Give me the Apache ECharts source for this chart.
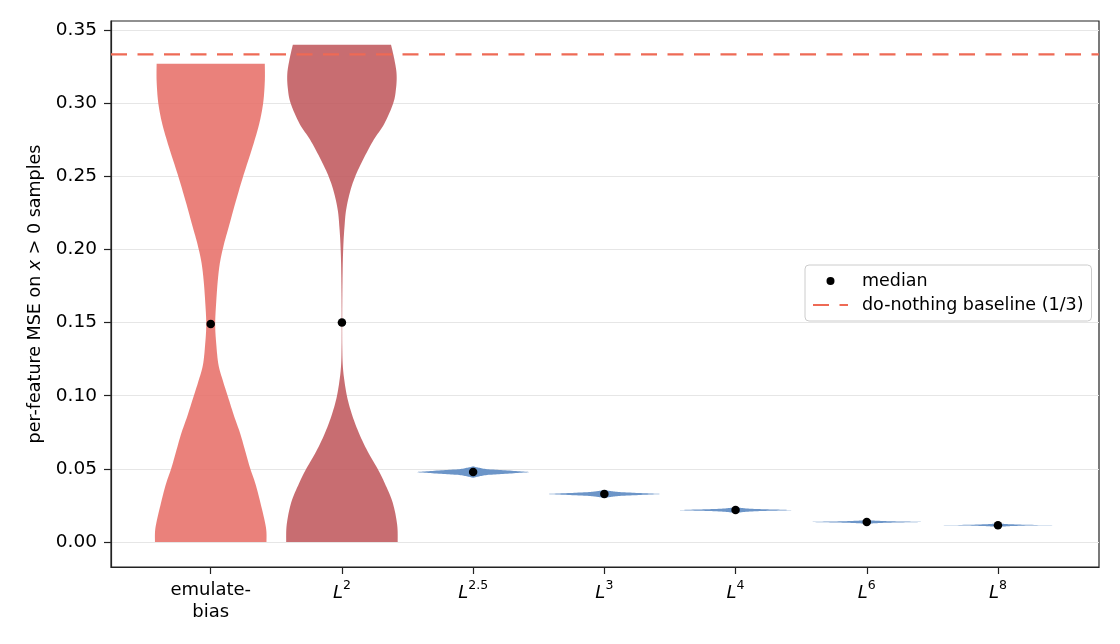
<!DOCTYPE html>
<html>
<head>
<meta charset="utf-8">
<script src="https://cdn.jsdelivr.net/npm/echarts@6.0.0/dist/echarts.min.js"></script>
<style>
  html, body { margin: 0; padding: 0; background: #fff; }
  #chart { width: 1120px; height: 644px; }
</style>
</head>
<body>
<div id="chart"></div>
<script>
// categories and tick labels
var categories = ['emulate-\nbias', 'L^2', 'L^2.5', 'L^3', 'L^4', 'L^6', 'L^8'];
var yTicks = [0, 0.05, 0.10, 0.15, 0.20, 0.25, 0.30, 0.35];

// medians
var medians = [0.149, 0.150, 0.0478, 0.0328, 0.0218, 0.0137, 0.0115];
var baseline = 1 / 3;

// violin outlines: [value, relative half-width]
var violinEmulate = [
    [0.000, 1.00], [0.010, 0.99], [0.027, 0.89], [0.040, 0.80], [0.050, 0.71],
    [0.062, 0.62], [0.074, 0.53], [0.086, 0.42], [0.098, 0.32], [0.110, 0.22],
    [0.121, 0.14], [0.135, 0.10], [0.149, 0.08], [0.165, 0.10], [0.180, 0.13],
    [0.192, 0.17], [0.204, 0.24], [0.215, 0.32], [0.233, 0.45], [0.251, 0.59],
    [0.270, 0.75], [0.286, 0.87], [0.300, 0.94], [0.315, 0.97], [0.327, 0.97]
];
var violinL2 = [
    [0.000, 1.00], [0.012, 0.99], [0.027, 0.91], [0.040, 0.77], [0.050, 0.64],
    [0.062, 0.46], [0.074, 0.31], [0.086, 0.19], [0.098, 0.10], [0.110, 0.045],
    [0.121, 0.015], [0.135, 0.006], [0.150, 0.005], [0.170, 0.008], [0.190, 0.015],
    [0.204, 0.027], [0.215, 0.045], [0.227, 0.075], [0.240, 0.15], [0.251, 0.25],
    [0.263, 0.40], [0.275, 0.57], [0.286, 0.76], [0.300, 0.92], [0.310, 0.97],
    [0.320, 0.98], [0.330, 0.94], [0.340, 0.88]
];
var violinL25 = [
    [0.0439, 0], [0.0448, 0.1], [0.0458, 0.25], [0.0464, 0.5], [0.0472, 0.8], [0.0478, 1],
    [0.0484, 0.8], [0.0492, 0.5], [0.0498, 0.25], [0.0508, 0.1], [0.0517, 0]
];
var violinL3 = [
    [0.0300, 0], [0.0307, 0.1], [0.0314, 0.25], [0.0319, 0.5], [0.0324, 0.8], [0.0328, 1],
    [0.0332, 0.8], [0.0337, 0.5], [0.0342, 0.25], [0.0349, 0.1], [0.0356, 0]
];
var violinL4 = [
    [0.0198, 0], [0.0203, 0.1], [0.0208, 0.25], [0.0212, 0.5], [0.0215, 0.8], [0.0218, 1],
    [0.0221, 0.8], [0.0224, 0.5], [0.0228, 0.25], [0.0233, 0.1], [0.0238, 0]
];
var violinL6 = [
    [0.0123, 0], [0.0127, 0.1], [0.0130, 0.25], [0.0133, 0.5], [0.0135, 0.8], [0.0137, 1],
    [0.0139, 0.8], [0.0141, 0.5], [0.0144, 0.25], [0.0147, 0.1], [0.0151, 0]
];
var violinL8 = [
    [0.0103, 0], [0.0106, 0.1], [0.0109, 0.25], [0.0112, 0.5], [0.0114, 0.8], [0.0115, 1],
    [0.0116, 0.8], [0.0118, 0.5], [0.0121, 0.25], [0.0124, 0.1], [0.0127, 0]
];
var violins = [violinEmulate, violinL2, violinL25, violinL3, violinL4, violinL6, violinL8];
var violinColors = ['#e66b64', '#be5358', '#5283be', '#5283be', '#5283be', '#5283be', '#5283be'];

var X_MIN = -0.76, X_MAX = 6.77;
var HALF = 0.425;
var FONT = 'DejaVu Sans';

var chart = echarts.init(document.getElementById('chart'));

// smooth outline through the profile points (catmull-rom, drawing only)
function outline(prof) {
    var out = [];
    var n = prof.length;
    for (var k = 0; k < n - 1; k++) {
        var p0 = prof[Math.max(k - 1, 0)], p1 = prof[k], p2 = prof[k + 1], p3 = prof[Math.min(k + 2, n - 1)];
        for (var s = 0; s < 8; s++) {
            var t = s / 8, t2 = t * t, t3 = t2 * t;
            var y = 0.5 * ((2 * p1[0]) + (-p0[0] + p2[0]) * t + (2 * p0[0] - 5 * p1[0] + 4 * p2[0] - p3[0]) * t2 + (-p0[0] + 3 * p1[0] - 3 * p2[0] + p3[0]) * t3);
            var w = 0.5 * ((2 * p1[1]) + (-p0[1] + p2[1]) * t + (2 * p0[1] - 5 * p1[1] + 4 * p2[1] - p3[1]) * t2 + (-p0[1] + 3 * p1[1] - 3 * p2[1] + p3[1]) * t3);
            out.push([y, Math.max(w, 0.002)]);
        }
    }
    out.push(prof[n - 1]);
    return out;
}

function renderViolin(params, api) {
    var i = api.value(0);
    var prof = outline(violins[i]);
    var pts = [];
    for (var k = 0; k < prof.length; k++) {
        pts.push(api.coord([i - prof[k][1] * HALF, prof[k][0]]));
    }
    for (var k = prof.length - 1; k >= 0; k--) {
        pts.push(api.coord([i + prof[k][1] * HALF, prof[k][0]]));
    }
    return {
        type: 'polygon',
        shape: { points: pts },
        style: { fill: violinColors[i], opacity: 0.85 }
    };
}

function xLabel(v) {
    var c = categories[Math.round(v)];
    if (c.indexOf('^') < 0) return c;
    var parts = c.split('^');
    return '{i|' + parts[0] + '}{s|' + parts[1] + '}';
}

var option = {
    animation: false,
    textStyle: { fontFamily: FONT },
    grid: {
        left: 111, right: 21, top: 21, bottom: 77,
        show: true, borderColor: '#222', borderWidth: 1.2, backgroundColor: 'transparent'
    },
    legend: {
        left: 805, top: 265,
        orient: 'vertical',
        padding: [7, 8, 7, 7],
        itemGap: 6,
        itemWidth: 35, itemHeight: 8,
        backgroundColor: 'rgba(255,255,255,0.8)',
        borderColor: '#cccccc', borderWidth: 1, borderRadius: 4,
        textStyle: { fontFamily: FONT, fontSize: 17.5, color: '#000', padding: [0, 0, 0, 9] },
        data: [
            { name: 'median', icon: 'circle' },
            { name: 'do-nothing baseline (1/3)', itemStyle: { opacity: 0 } }
        ]
    },
    xAxis: {
        type: 'value',
        min: X_MIN, max: X_MAX,
        axisLine: { show: true, onZero: false, lineStyle: { color: '#222', width: 1.2 } },
        axisTick: { show: true, length: 7, customValues: [0, 1, 2, 3, 4, 5, 6], lineStyle: { color: '#222', width: 1.2 } },
        axisLabel: {
            customValues: [0, 1, 2, 3, 4, 5, 6],
            formatter: xLabel,
            margin: 12,
            color: '#000', fontFamily: FONT, fontSize: 18, lineHeight: 22,
            rich: {
                i: { fontFamily: FONT, fontSize: 18, fontStyle: 'italic', color: '#000', lineHeight: 23, verticalAlign: 'bottom' },
                s: { fontFamily: FONT, fontSize: 12.5, color: '#000', lineHeight: 13, verticalAlign: 'top' }
            }
        },
        splitLine: { show: false }
    },
    yAxis: {
        type: 'value',
        min: -0.0171, max: 0.3562,
        name: '{n|per-feature MSE on }{i|x}{n| > 0 samples}',
        nameLocation: 'middle',
        nameRotate: 90,
        nameGap: 67,
        nameTextStyle: {
            rich: {
                n: { fontFamily: FONT, fontSize: 17.5, color: '#000' },
                i: { fontFamily: FONT, fontSize: 17.5, fontStyle: 'italic', color: '#000' }
            }
        },
        axisLine: { show: true, onZero: false, lineStyle: { color: '#222', width: 1.2 } },
        axisTick: { show: true, length: 7, customValues: yTicks, lineStyle: { color: '#222', width: 1.2 } },
        axisLabel: {
            customValues: yTicks,
            formatter: function (v) { return v.toFixed(2); },
            margin: 14,
            color: '#000', fontFamily: FONT, fontSize: 18.5
        },
        splitLine: { show: true, lineStyle: { color: '#e6e6e6', width: 1.2 } }
    },
    series: [
        {
            name: 'violins',
            type: 'custom',
            renderItem: renderViolin,
            data: categories.map(function (c, i) { return [i, medians[i]]; }),
            encode: { x: 0, y: 1 },
            z: 2,
            silent: true
        },
        {
            name: 'do-nothing baseline (1/3)',
            type: 'line',
            data: [[X_MIN, baseline], [X_MAX, baseline]],
            symbol: 'none',
            lineStyle: { color: '#ee6a55', width: 2.3, type: [16, 10.5] },
            itemStyle: { color: '#ee6a55' },
            z: 3
        },
        {
            name: 'median',
            type: 'scatter',
            data: medians.map(function (m, i) { return [i, m]; }),
            symbolSize: 8.5,
            itemStyle: { color: '#000', opacity: 1 },
            z: 4
        }
    ]
};

chart.setOption(option);
</script>
</body>
</html>
